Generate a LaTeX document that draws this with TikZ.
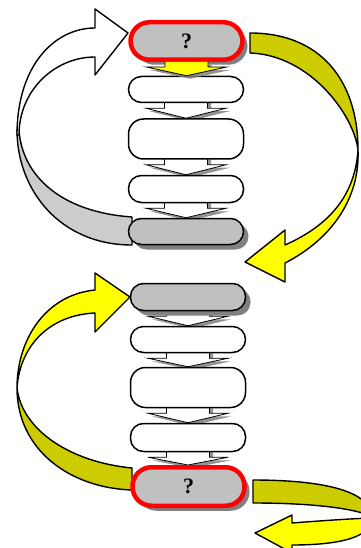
\documentclass[tikz,border=0pt]{standalone}
\usepackage{fontspec}
\setmainfont{Liberation Serif}
\usetikzlibrary{calc,shadows,backgrounds}
\usepackage{tkz-euclide}
\definecolor{BoxClr}{RGB}{192,192,192}
\definecolor{ShadowClr}{RGB}{128,128,128}
\definecolor{OliveClr}{RGB}{204,204,0}
\definecolor{YellowClr}{RGB}{255,255,0}
\definecolor{BandClr}{RGB}{204,204,204}
\definecolor{RimClr}{RGB}{255,0,0}

\tikzset{
  stage/.style={draw=black,line width=1.5pt,fill=white,rounded corners=13pt,
    minimum width=115pt,inner sep=0pt},
  shaded/.style={fill=BoxClr,drop shadow={shadow xshift=5pt,shadow yshift=-5pt,
    fill=ShadowClr,opacity=1}},
  goal/.style={shaded,draw=RimClr,line width=4.5pt,rounded corners=19pt,
    minimum width=112pt,font=\fontsize{22}{24}\selectfont\bfseries},
  band/.style={draw=black,line width=1.4pt,line join=round},
  chevron/.style={draw=black,line width=0.8pt,drop shadow={shadow xshift=3.5pt,
    shadow yshift=-3pt,fill=ShadowClr,opacity=.85}},
}

\newcommand{\StepArrow}[4][white]{%
  \draw[chevron,fill=#1] let \p1=(#2.south), \p2=(#3.north) in
    (\x1-21.5,\y1+#4) -- (\x1-21.5,\y1-5) -- (\x1-40,\y1-5) -- (\x1,\y2)
    -- (\x1+40,\y1-5) -- (\x1+21.5,\y1-5) -- (\x1+21.5,\y1+#4);}

\begin{document}
\begin{tikzpicture}[x=1pt,y=1pt]
\useasboundingbox (0,0) rectangle (360,-548);

\tkzDefPoints{186.5/-41/Q1,186/-89.5/Q2,186/-139/Q3,186/-189/Q4,186/-231.5/Q5}
\tkzDefPoints{188/-297/Q6,188/-339.5/Q7,188/-387.5/Q8,188/-437.5/Q9,188.5/-486.5/Q10}

\node[stage,goal,minimum height=37.5pt] (b1) at (Q1) {?};
\node[stage,minimum height=26pt] (b2) at (Q2) {};
\node[stage,minimum height=40pt,rounded corners=15pt] (b3) at (Q3) {};
\node[stage,minimum height=27pt] (b4) at (Q4) {};
\node[stage,shaded,minimum height=26pt] (b5) at (Q5) {};

\node[stage,shaded,minimum height=27pt] (b6) at (Q6) {};
\node[stage,minimum height=26pt] (b7) at (Q7) {};
\node[stage,minimum height=40pt,rounded corners=15pt] (b8) at (Q8) {};
\node[stage,minimum height=28pt] (b9) at (Q9) {};
\node[stage,goal,minimum height=38.5pt] (b10) at (Q10) {?};

\StepArrow[YellowClr]{b1}{b2}{0}

\begin{pgfonlayer}{background}
\StepArrow{b2}{b3}{3}
\StepArrow{b3}{b4}{3}
\StepArrow{b4}{b5}{3}
\StepArrow{b6}{b7}{3}
\StepArrow{b7}{b8}{3}
\StepArrow{b8}{b9}{3}
\StepArrow{b9}{b10}{3}

\draw[band,fill=BandClr] (17,-130) .. controls (17,-190) and (60,-245) .. (132,-245)
  -- (132,-217) .. controls (60,-212) and (22,-175) .. (19,-130) -- cycle;
\draw[band,fill=white] (17,-135) .. controls (17,-65) and (55,-28) .. (95,-28)
  -- (95,-9) -- (128,-33) -- (95,-75) -- (95,-57)
  .. controls (55,-57) and (19,-90) .. (19,-135) -- cycle;

\draw[band,fill=OliveClr] (250,-53) -- (250,-33) .. controls (320,-33) and (358,-80) .. (358,-150)
  .. controls (354,-115) and (310,-55) .. (250,-53) -- cycle;
\draw[band,fill=YellowClr] (358,-150) .. controls (360,-200) and (330,-240) .. (285,-263)
  -- (285,-282) -- (245,-262) -- (285,-230) -- (285,-245)
  .. controls (330,-225) and (355,-195) .. (358,-150) -- cycle;

\draw[band,fill=YellowClr] (17,-388) .. controls (17,-340) and (45,-295) .. (95,-290)
  -- (95,-273) -- (130,-297) -- (95,-332) -- (95,-313)
  .. controls (50,-315) and (20,-345) .. (17,-388) -- cycle;
\draw[band,fill=OliveClr] (17,-388) .. controls (17,-450) and (70,-488) .. (132,-490)
  -- (132,-468) .. controls (70,-462) and (22,-430) .. (17,-388) -- cycle;

\draw[band,fill=OliveClr] (253,-503) -- (253,-480) .. controls (320,-480) and (372,-490) .. (372,-518)
  .. controls (368,-512) and (330,-503) .. (253,-503) -- cycle;
\draw[band,fill=YellowClr] (372,-518) .. controls (372,-540) and (330,-545) .. (292,-545)
  -- (292,-553) -- (255,-533) -- (292,-515) -- (292,-523)
  .. controls (330,-520) and (365,-518) .. (372,-518) -- cycle;
\end{pgfonlayer}

\end{tikzpicture}
\end{document}
